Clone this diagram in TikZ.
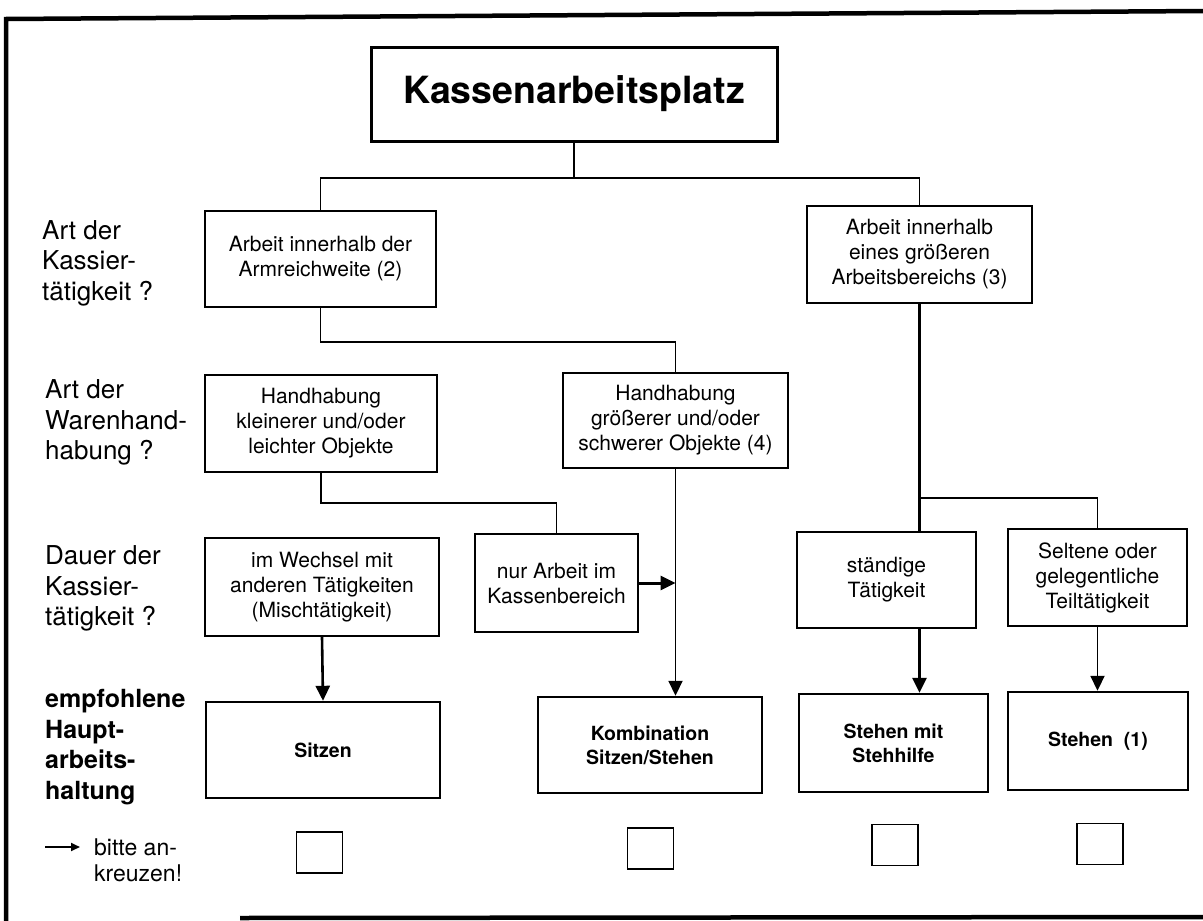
\documentclass[tikz,border=0pt]{standalone}
\usepackage{fontspec}
\setmainfont{TeX Gyre Heros}
\usepackage{tikz}
\usetikzlibrary{arrows.meta, positioning}

\tikzset{
  qbox/.style={draw, line width=2.4pt, align=center, inner sep=2pt, font=\fontsize{21}{25}\selectfont},
  resbox/.style={qbox, font=\fontsize{19.5}{24}\selectfont\bfseries},
  sidelabel/.style={anchor=west, align=left, inner sep=0pt, font=\fontsize{26}{30.5}\selectfont},
  conn/.style={line width=1.8pt},
  arr/.style={line width=1.8pt, -{Triangle[length=15pt, width=14pt]}},
  tickbox/.style={draw, line width=1.4pt, minimum width=46pt, minimum height=41pt, inner sep=0pt}
}

\begin{document}
\begin{tikzpicture}[x=1pt, y=-1pt]
  \useasboundingbox (0,0) rectangle (1203,921);

  % frame
  \draw[line width=4.5pt] (6,921) -- (6,19) -- (1203,11);
  \draw[line width=4.5pt] (240,918) -- (1203,917);

  % top
  \node[draw, line width=3pt, minimum width=406pt, minimum height=94pt, inner sep=0pt,
        font=\fontsize{37.5}{40}\selectfont\bfseries] (title) at (574,94) {Kassenarbeitsplatz};

  % first level
  \node[qbox, minimum width=231pt, minimum height=96pt] (armr) at (320.5,259) {Arbeit innerhalb der\\Armreichweite (2)};
  \node[qbox, minimum width=225pt, minimum height=97pt] (gross) at (919.5,254.5) {Arbeit innerhalb\\eines größeren\\Arbeitsbereichs (3)};

  % second level
  \node[qbox, minimum width=232pt, minimum height=97pt] (klein) at (321,423.5) {Handhabung\\kleinerer und/oder\\leichter Objekte};
  \node[qbox, minimum width=225pt, minimum height=95pt] (schwer) at (675.5,420.5) {Handhabung\\größerer und/oder\\schwerer Objekte (4)};

  % third level
  \node[qbox, minimum width=234pt, minimum height=98pt] (misch) at (322,587) {im Wechsel mit\\anderen Tätigkeiten\\(Mischtätigkeit)};
  \node[qbox, minimum width=163pt, minimum height=98pt] (kasse) at (556.5,583) {nur Arbeit im\\Kassenbereich};
  \node[qbox, minimum width=179pt, minimum height=96pt] (staend) at (886.5,580) {ständige\\Tätigkeit};
  \node[qbox, minimum width=179pt, minimum height=97pt] (selten) at (1097.5,577.5) {Seltene oder\\gelegentliche\\Teiltätigkeit};

  % results
  \node[resbox, minimum width=234pt, minimum height=96pt] (sitzen) at (323,750) {Sitzen};
  \node[resbox, minimum width=224pt, minimum height=96pt] (kombi) at (650,745) {Kombination\\Sitzen/Stehen};
  \node[resbox, minimum width=189pt, minimum height=98pt] (hilfe) at (893.5,743) {Stehen mit\\Stehhilfe};
  \node[resbox, minimum width=180pt, minimum height=98pt] (stehen) at (1098,741) {Stehen~~(1)};

  % tick boxes
  \node[tickbox] (cb1) at (319.5,852.5) {};
  \node[tickbox] (cb2) at (650.5,848.5) {};
  \node[tickbox] (cb3) at (895,845) {};
  \node[tickbox] (cb4) at (1100,844) {};

  % questions on the left
  \node[sidelabel] (q1) at (42,263) {Art der\\Kassier-\\tätigkeit ?};
  \node[sidelabel] (q2) at (45,422.5) {Art der\\Warenhand-\\habung ?};
  \node[sidelabel] (q3) at (45,588.5) {Dauer der\\Kassier-\\tätigkeit ?};
  \node[sidelabel, font=\fontsize{25}{30.5}\selectfont\bfseries] (q4) at (45,747) {empfohlene\\Haupt-\\arbeits-\\haltung};
  \node[sidelabel, font=\fontsize{23}{26}\selectfont] (hint) at (94,860) {bitte an-\\kreuzen!};
  \coordinate (hs) at (45,847);
  \coordinate (he) at (80,847);
  \draw[line width=1.8pt, -{Triangle[length=9pt, width=8pt]}] (hs) -- (he);

  % connectors
  \coordinate (j1) at (574,178);
  \draw[conn] (title.south) -- (j1);
  \draw[conn] (armr.north) |- (j1) -| (gross.north);

  \coordinate (j2) at (320.5,342);
  \draw[conn] (armr.south) -- (j2) -| (schwer.north);

  \coordinate (j3) at (321,503);
  \draw[conn] (klein.south) -- (j3) -| (kasse.north);

  \coordinate (j4) at (919.5,498);
  \draw[conn, line width=2.4pt] (gross.south) -- (j4) -- (gross.south |- staend.north);
  \draw[conn] (j4) -| (selten.north);

  % arrows
  \draw[arr] (schwer.south) -- (schwer.south |- kombi.north);
  \draw[arr, line width=3pt] (kasse.east) -- (schwer.south |- kasse.east);
  \draw[arr, line width=2.6pt] (misch.south) -- (sitzen.north);
  \draw[arr, line width=3pt] (gross.south |- staend.south) -- (gross.south |- hilfe.north);
  \draw[arr] (selten.south) -- (selten.south |- stehen.north);
\end{tikzpicture}
\end{document}
